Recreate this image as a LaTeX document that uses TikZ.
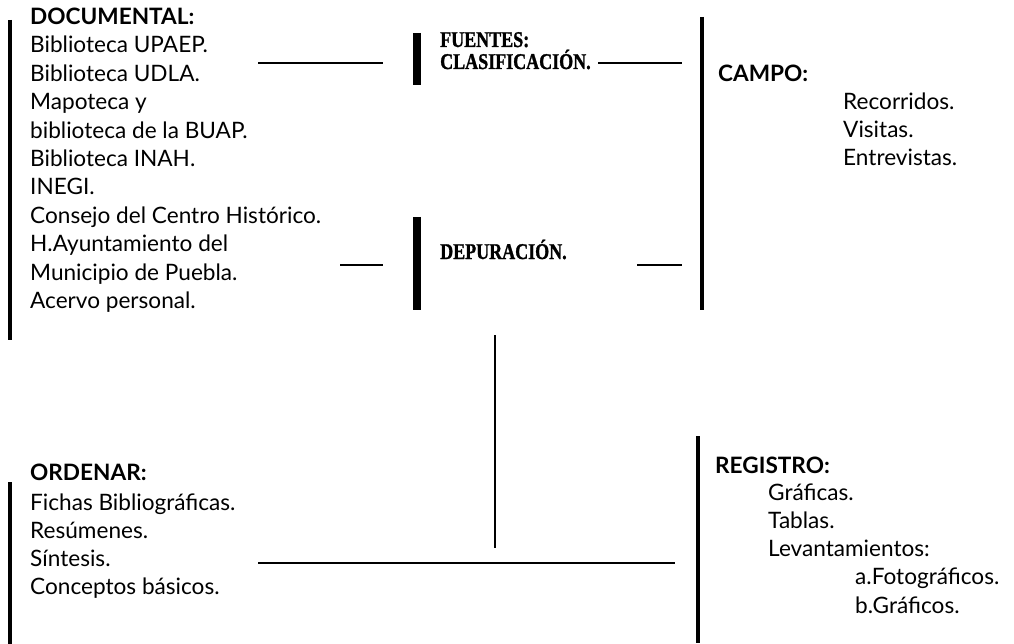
\documentclass[tikz,border=0pt]{standalone}
\usepackage{fontspec}
\setmainfont{Lato}
\newfontfamily\serifbold[FakeStretch=0.8,FakeBold=1.2]{Liberation Serif}
\begin{document}
\begin{tikzpicture}[x=1pt,y=-1pt,
  txt/.style={anchor=base west, inner sep=0pt, font=\fontsize{22.6}{26}\selectfont},
  ttl/.style={anchor=base west, inner sep=0pt, font=\fontsize{22.6}{26}\selectfont\bfseries},
  sertl/.style={anchor=base west, inner sep=0pt, font=\fontsize{22.5}{25}\selectfont\serifbold\bfseries},
  thinbar/.style={line width=3.8pt},
  thickbar/.style={line width=7.5pt},
  conn/.style={line width=1.4pt}]
\useasboundingbox (0,0) rectangle (1014,644);
% ---- DOCUMENTAL ----
\coordinate (b1t) at (10,20); \coordinate (b1b) at (10,340);
\draw[thinbar] (b1t) -- (b1b);
\node[ttl] (doc) at (30,25) {DOCUMENTAL:};
\node[txt] (d1) at (30,53) {Biblioteca UPAEP.};
\node[txt] (d2) at (30,81.4) {Biblioteca UDLA.};
\node[txt] (d3) at (30,109.8) {Mapoteca y};
\node[txt] (d4) at (30,138.2) {biblioteca de la BUAP.};
\node[txt] (d5) at (30,166.6) {Biblioteca INAH.};
\node[txt] (d6) at (30,195) {INEGI.};
\node[txt] (d7) at (30,223.4) {Consejo del Centro Histórico.};
\node[txt] (d8) at (30,251.8) {H.Ayuntamiento del};
\node[txt] (d9) at (30,280.2) {Municipio de Puebla.};
\node[txt] (d10) at (30,308.6) {Acervo personal.};
% ---- FUENTES ----
\coordinate (fbt) at (417,33); \coordinate (fbb) at (417,85);
\draw[thickbar] (fbt) -- (fbb);
\node[sertl] (fue) at (440,47) {FUENTES:};
\node[sertl] (cla) at (440,69) {CLASIFICACIÓN.};
\coordinate (c1a) at (258,63); \coordinate (c1b) at (383,63);
\draw[conn] (c1a) -- (c1b);
\coordinate (c2a) at (598,63); \coordinate (c2b) at (682,63);
\draw[conn] (c2a) -- (c2b);
% ---- DEPURACION ----
\coordinate (dbt) at (417,217); \coordinate (dbb) at (417,310);
\draw[thickbar] (dbt) -- (dbb);
\node[sertl] (dep) at (440,259) {DEPURACIÓN.};
\coordinate (c3a) at (340,265); \coordinate (c3b) at (383,265);
\draw[conn] (c3a) -- (c3b);
\coordinate (c4a) at (637,265); \coordinate (c4b) at (682,265);
\draw[conn] (c4a) -- (c4b);
% ---- CAMPO ----
\coordinate (cbt) at (702,17); \coordinate (cbb) at (702,310);
\draw[line width=4pt] (cbt) -- (cbb);
\node[ttl] (cam) at (718,82) {CAMPO:};
\node[txt] (ca1) at (843,110) {Recorridos.};
\node[txt] (ca2) at (843,138) {Visitas.};
\node[txt] (ca3) at (843,166) {Entrevistas.};
% ---- central connectors ----
\coordinate (vt) at (495,335); \coordinate (vb) at (495,548);
\draw[line width=2.2pt] (vt) -- (vb);
\coordinate (ha) at (258,563); \coordinate (hb) at (675,563);
\draw[conn] (ha) -- (hb);
% ---- ORDENAR ----
\coordinate (b2t) at (10,482); \coordinate (b2b) at (10,644);
\draw[thinbar] (b2t) -- (b2b);
\node[ttl] (ord) at (30,480) {ORDENAR:};
\node[txt] (o1) at (30,510) {Fichas Bibliográficas.};
\node[txt] (o2) at (30,538) {Resúmenes.};
\node[txt] (o3) at (30,566) {Síntesis.};
\node[txt] (o4) at (30,594) {Conceptos básicos.};
% ---- REGISTRO ----
\coordinate (rbt) at (698,436); \coordinate (rbb) at (698,643);
\draw[line width=4pt] (rbt) -- (rbb);
\node[ttl] (reg) at (715,473) {REGISTRO:};
\node[txt] (r1) at (768,500) {Gráficas.};
\node[txt] (r2) at (768,528) {Tablas.};
\node[txt] (r3) at (768,556) {Levantamientos:};
\node[txt] (r4) at (855,584) {a.Fotográficos.};
\node[txt] (r5) at (855,613) {b.Gráficos.};
\end{tikzpicture}
\end{document}
